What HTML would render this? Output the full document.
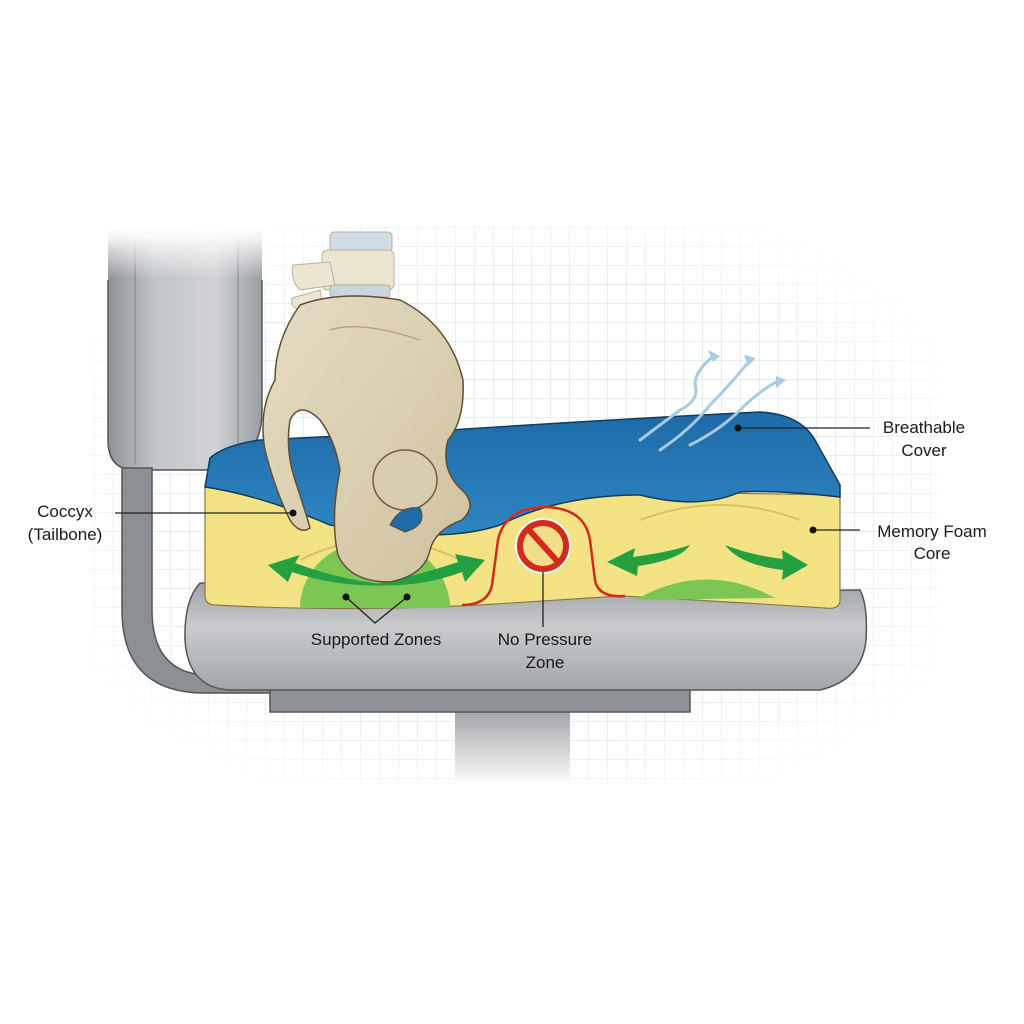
<!DOCTYPE html>
<html><head><meta charset="utf-8"><style>
html,body{margin:0;padding:0;background:#fff;}
svg{display:block;}
text{font-family:"Liberation Sans",sans-serif;fill:#1a1a1a;}
</style></head><body>
<svg width="1024" height="1024" viewBox="0 0 1024 1024" xmlns="http://www.w3.org/2000/svg">
<defs>
<pattern id="grid" width="19" height="19" patternUnits="userSpaceOnUse">
<path d="M19 0V19H0" fill="none" stroke="#cfdee6" stroke-width="1"/>
</pattern>
<radialGradient id="gfade" cx="0.5" cy="0.5" r="0.6">
<stop offset="0.7" stop-color="#fff" stop-opacity="0"/>
<stop offset="1" stop-color="#fff" stop-opacity="1"/>
</radialGradient>
<linearGradient id="back" x1="0" x2="1">
<stop offset="0" stop-color="#8e9196"/><stop offset="0.3" stop-color="#c2c5c8"/><stop offset="0.7" stop-color="#d0d2d4"/><stop offset="1" stop-color="#9a9da1"/>
</linearGradient>
<linearGradient id="backfade" x1="0" y1="0" x2="0" y2="1">
<stop offset="0" stop-color="#fff" stop-opacity="1"/><stop offset="0.1" stop-color="#fff" stop-opacity="0.9"/><stop offset="0.45" stop-color="#fff" stop-opacity="0"/>
</linearGradient>
<linearGradient id="seat" x1="0" y1="0" x2="0" y2="1">
<stop offset="0" stop-color="#9fa2a6"/><stop offset="0.4" stop-color="#c9cbcd"/><stop offset="1" stop-color="#a3a6aa"/>
</linearGradient>
<linearGradient id="post" x1="0" y1="0" x2="0" y2="1">
<stop offset="0" stop-color="#9a9da1"/><stop offset="1" stop-color="#fff"/>
</linearGradient>
<linearGradient id="blue" x1="0" y1="0" x2="0" y2="1">
<stop offset="0" stop-color="#1f6aa8"/><stop offset="1" stop-color="#2d86c2"/>
</linearGradient>
<linearGradient id="bone" x1="0" y1="0" x2="1" y2="1">
<stop offset="0" stop-color="#e6dcc2"/><stop offset="1" stop-color="#cfc2a0"/>
</linearGradient>
</defs>
<rect width="1024" height="1024" fill="#fff"/>
<rect x="90" y="225" width="850" height="560" fill="url(#grid)"/>
<rect x="90" y="225" width="850" height="560" fill="url(#gfade)"/>

<!-- chair back -->
<path d="M108 230 H262 V410 Q262 470 200 470 H135 Q108 470 108 440 Z" fill="url(#back)"/>
<path d="M108 280 V440 Q108 470 135 470 H200 Q262 470 262 410 V280" fill="none" stroke="#555" stroke-width="1.5"/>
<path d="M135 240 V465 M238 240 V450" stroke="#6d7074" stroke-width="1.2" fill="none" opacity="0.6"/>
<rect x="100" y="225" width="170" height="120" fill="url(#backfade)"/>
<!-- strut -->
<path d="M122 468 V610 Q122 690 200 693 H275 V675 H205 Q152 672 152 610 V468 Z" fill="#8c8f93" stroke="#555" stroke-width="1.5"/>
<!-- post -->
<rect x="455" y="705" width="115" height="80" fill="url(#post)"/>
<!-- seat -->
<path d="M270 685 H690 V712 H270 Z" fill="#8e9195" stroke="#555" stroke-width="1.5"/>
<path d="M200 583 Q520 595 860 590 Q868 605 866 640 Q862 680 820 690 H230 Q188 688 185 640 Q184 600 200 583 Z" fill="url(#seat)" stroke="#555" stroke-width="1.5"/>

<!-- cushion yellow -->
<path d="M205 485 L840 495 V600 Q840 610 825 608 Q700 600 620 596 L480 605 Q340 612 215 605 Q205 605 205 595 Z" fill="#f3e384" stroke="#8a7a40" stroke-width="1.2"/>
<path d="M300 560 Q380 520 460 560 M640 520 Q720 490 800 520" stroke="#d6c266" stroke-width="2" fill="none"/>
<!-- green zones -->
<path d="M300 608 A75 68 0 0 1 450 608 Z" fill="#7cc655"/>
<path d="M635 600 Q705 560 775 598 Z" fill="#7cc655"/>
<!-- blue cover -->
<path d="M205 487 L210 458 Q225 445 260 440 L420 432 Q600 420 760 412 Q800 414 815 440 L840 485 L840 497 Q780 490 740 492 Q700 510 640 495 Q560 495 500 525 Q440 545 330 525 Q260 495 205 487 Z" fill="url(#blue)" stroke="#123b5c" stroke-width="1.5"/>
<!-- breath lines -->
<g stroke="#a8cbe0" stroke-width="3" fill="none" stroke-linecap="round">
<path d="M640 440 Q660 425 680 410 Q700 400 695 385 Q695 370 715 355"/>
<path d="M660 450 Q690 430 710 405 Q730 385 750 360"/>
<path d="M690 445 Q720 430 740 410 Q760 390 780 380"/>
</g>
<path d="M708 350 L720 356 L713 362 Z M744 355 L756 358 L748 366 Z M776 376 L786 380 L776 388 Z" fill="#a8cbe0"/>
<!-- arrows -->
<g fill="#25a040">
<path d="M268 565 L300 555 L295 563 Q340 580 390 585 Q340 588 292 572 L288 582 Z"/>
<path d="M485 560 L455 554 L458 562 Q410 578 370 585 Q420 588 462 572 L465 582 Z"/>
<path d="M607 562 L635 548 L633 557 Q670 552 690 545 Q680 560 638 566 L637 576 Z"/>
<path d="M808 565 L782 550 L783 559 Q750 555 725 545 Q740 565 783 570 L782 580 Z"/>
</g>
<!-- red hump -->
<path d="M462 605 Q488 605 492 585 L498 540 Q505 508 545 507 Q585 508 590 540 L595 580 Q598 598 625 596" fill="none" stroke="#d42a1e" stroke-width="2.5"/>
<circle cx="543" cy="546" r="23" fill="none" stroke="#fff" stroke-width="10"/>
<circle cx="543" cy="546" r="23" fill="#f2dd8a" stroke="#d42a1e" stroke-width="6"/>
<line x1="529" y1="530" x2="558" y2="562" stroke="#d42a1e" stroke-width="6"/>

<!-- spine -->
<g fill="#ebe5d2" stroke="#b9b09a" stroke-width="1">
<rect x="330" y="232" width="62" height="20" rx="4" fill="#d0dde6"/>
<rect x="322" y="250" width="72" height="40" rx="6"/>
<rect x="330" y="285" width="60" height="12" rx="3" fill="#c7d7e2"/>
<path d="M293 265 L330 262 L335 285 L300 290 Q290 280 293 265 Z"/>
<path d="M292 298 L320 290 L322 305 Q300 315 292 305 Z"/>
</g>
<!-- pelvis -->
<path d="M300 305 Q340 290 400 300 Q450 325 463 380 Q465 420 448 440 Q440 470 462 490 Q478 505 462 520 Q435 530 430 550 Q425 575 390 582 Q350 582 338 555 Q330 520 340 470 Q335 440 320 420 Q300 400 290 420 Q285 450 295 480 Q305 510 310 528 Q300 535 290 520 Q275 490 265 450 Q258 410 275 380 Q275 340 300 305 Z" fill="url(#bone)" stroke="#5e5032" stroke-width="1.5"/>
<ellipse cx="405" cy="480" rx="32" ry="30" fill="#d8cdb0" stroke="#6e5f3c" stroke-width="1.5"/>
<path d="M390 525 Q400 505 420 508 Q428 525 405 532 Z" fill="#1f6aa8" stroke="#5e5032"/>
<path d="M330 330 Q360 320 420 340" stroke="#b5a683" fill="none" stroke-width="1.5"/>

<!-- leader lines -->
<g stroke="#222" stroke-width="1.3" fill="none">
<path d="M115 513 H293"/>
<path d="M738 428 H870"/>
<path d="M813 530 H860"/>
<path d="M346 597 L375 623 L407 597"/>
<path d="M543 572 V627"/>
</g>
<g fill="#111">
<circle cx="293" cy="513" r="3.5"/><circle cx="738" cy="428" r="3.5"/><circle cx="813" cy="530" r="3.5"/>
<circle cx="346" cy="597" r="3.5"/><circle cx="407" cy="597" r="3.5"/>
</g>
<!-- labels -->
<g font-size="17" text-anchor="middle">
<text x="65" y="517">Coccyx</text>
<text x="65" y="540">(Tailbone)</text>
<text x="924" y="433">Breathable</text>
<text x="924" y="456">Cover</text>
<text x="932" y="537">Memory Foam</text>
<text x="932" y="559">Core</text>
<text x="376" y="645">Supported Zones</text>
<text x="545" y="645">No Pressure</text>
<text x="545" y="668">Zone</text>
</g>
</svg>
</body></html>
